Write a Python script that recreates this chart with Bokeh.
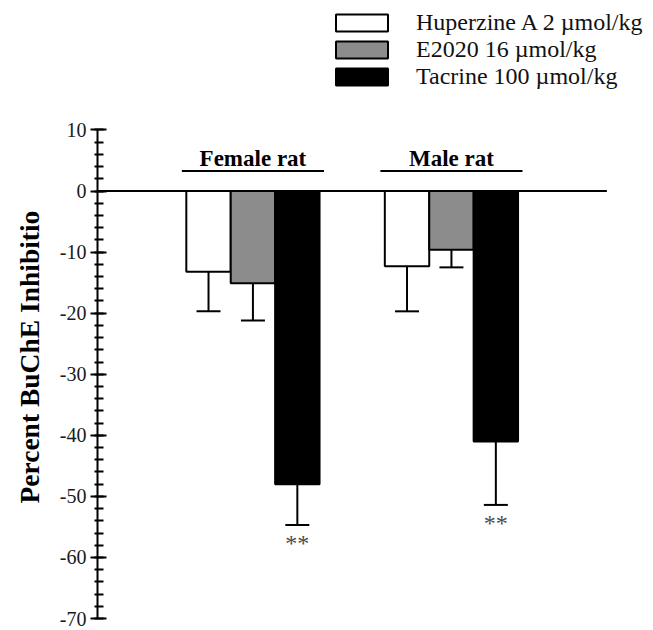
from bokeh.plotting import figure
from bokeh.models import (ColumnDataSource, Range1d, Whisker, TeeHead,
                          FixedTicker, Legend, LegendItem, Title)
from bokeh.core.properties import value
from bokeh.embed import file_html
from bokeh.resources import INLINE

# ---- data ----
groups = ["Female rat", "Male rat"]
series = ["Huperzine A 2 \u00b5mol/kg", "E2020 16 \u00b5mol/kg", "Tacrine 100 \u00b5mol/kg"]
means_huperzine = [-13.2, -12.3]
means_e2020 = [-15.1, -9.6]
means_tacrine = [-48.0, -41.0]
sem_huperzine = [6.5, 7.4]
sem_e2020 = [6.1, 2.9]
sem_tacrine = [6.7, 10.4]
signif_tacrine = ["**", "**"]
y_ticks = [10, 0, -10, -20, -30, -40, -50, -60, -70]
y_minor = list(range(-70, 11, 2))
y_label = "Percent BuChE Inhibitio"

means = [means_huperzine, means_e2020, means_tacrine]
sems = [sem_huperzine, sem_e2020, sem_tacrine]
fills = ["white", "#8c8c8c", "black"]

SERIF = "Liberation Serif"

# layout (in bar-width units): left pad, group gap
PAD, GAP = 2.0, 1.47
n_s = len(series)
group_center = [PAD + n_s / 2 + g * (n_s + GAP) for g in range(len(groups))]
x_end_line = group_center[-1] + n_s / 2 + PAD

p = figure(width=653, height=630, x_range=Range1d(0, 12.52), y_range=Range1d(-70, 31.2),
           output_backend="svg", toolbar_location=None,
           min_border_left=97, min_border_right=0, min_border_top=0, min_border_bottom=12)
p.outline_line_color = None
p.xgrid.visible = False
p.ygrid.visible = False
p.xaxis.visible = False

ax = p.yaxis[0]
ax.bounds = (-70, 10)
ax.ticker = FixedTicker(ticks=y_ticks, minor_ticks=y_minor)
ax.major_label_overrides = {t: str(t) for t in y_ticks}
ax.axis_line_width = 2
ax.major_tick_line_width = 2
ax.minor_tick_line_width = 2
ax.major_tick_out = 7
ax.major_tick_in = 9
ax.minor_tick_out = 3
ax.minor_tick_in = 6
ax.major_label_text_font = SERIF
ax.major_label_text_font_size = "20px"
ax.major_label_text_color = "#1a1a1a"
ax.major_label_standoff = 4

# zero line from axis to the right
p.segment(x0=[0], x1=[x_end_line], y0=[0], y1=[0], line_color="black", line_width=2)

items = []
for i in range(n_s):
    xs = [c + (i - (n_s - 1) / 2) for c in group_center]
    src = ColumnDataSource(dict(x=xs, top=means[i], bottom=[0] * len(groups),
                                low=[m - e for m, e in zip(means[i], sems[i])]))
    r = p.vbar(x="x", top="top", bottom="bottom", width=1.0, source=src,
               fill_color=fills[i], line_color="black", line_width=2)
    items.append(LegendItem(label=series[i], renderers=[r]))
    w = Whisker(source=src, base="x", upper="top", lower="low", dimension="height",
                line_width=2, line_color="black", upper_head=None,
                lower_head=TeeHead(size=24, line_width=2, line_color="black"))
    p.add_layout(w)
    if i == n_s - 1:
        src.data["star"] = signif_tacrine
        src.data["star_y"] = [l - 3.0 for l in src.data["low"]]
        p.text(x="x", y="star_y", text="star", source=src, text_align="center",
               text_baseline="middle", text_font=value(SERIF), text_font_size="24px",
               text_color="#4a4a4a")

# group labels with underline
gsrc = ColumnDataSource(dict(g=groups, gx=group_center,
                             x0=[c - 1.6 for c in group_center], x1=[c + 1.6 for c in group_center],
                             ly=[5.3] * len(groups), uy=[3.3] * len(groups)))
p.text(x="gx", y="ly", text="g", source=gsrc, text_align="center", text_baseline="alphabetic",
       text_font=value(SERIF), text_font_style="bold", text_font_size="23px", text_color="black")
p.segment(x0="x0", x1="x1", y0="uy", y1="uy", source=gsrc, line_color="black", line_width=2)

legend = Legend(items=items, location=(232, 528), glyph_width=65, glyph_height=21,
                label_standoff=22, spacing=0, padding=0, margin=0,
                border_line_color=None, background_fill_alpha=0,
                label_text_font=SERIF, label_text_font_size="24px", label_text_color="#111111")
p.add_layout(legend, "center")

p.add_layout(Title(text=y_label, align="left", vertical_align="top", offset=115, standoff=20,
                   text_font=SERIF, text_font_style="bold", text_font_size="27.5px",
                   text_color="black"), "left")

open("out.html", "w").write(file_html(p, INLINE))
